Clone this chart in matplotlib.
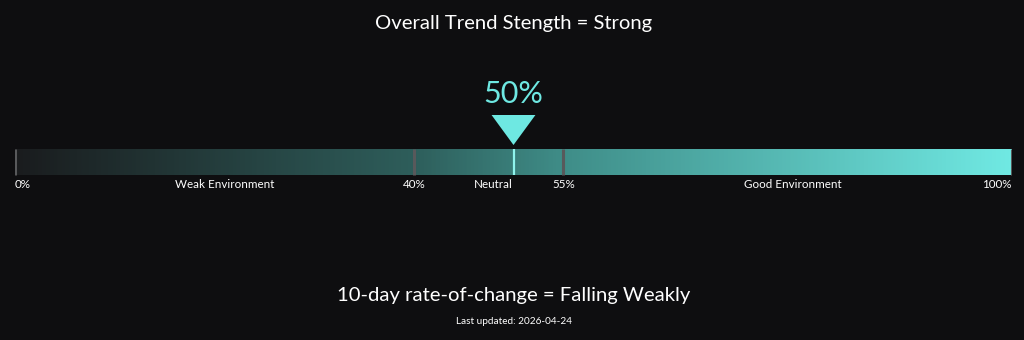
import numpy as np
import matplotlib
matplotlib.use("Agg")
import matplotlib.pyplot as plt
from matplotlib.colors import LinearSegmentedColormap

# 数据
title = "Overall Trend Stength = Strong"
subtitle = "10-day rate-of-change = Falling Weakly"
updated = "Last updated: 2026-04-24"
current_value = 50
dividers = [0, 40, 55, 100]
tick_labels = ["0%", "40%", "55%", "100%"]
zone_names = ["Weak Environment", "Neutral", "Good Environment"]
zone_label_pos = [21, 48, 78]

BG = "#0e0e10"
CYAN = "#6ee8e2"

plt.rcParams['font.family'] = ['Lato', 'DejaVu Sans']

fig = plt.figure(figsize=(10.24, 3.4), dpi=100, facecolor=BG)

# 坐标轴: x 为百分比, y 为像素(向下)
left, right = 15 / 1024, 1012 / 1024
y_top, y_bot = 60, 200
ax = fig.add_axes([left, (340 - y_bot) / 340, right - left, (y_bot - y_top) / 340])
ax.set_facecolor(BG)
ax.set_xlim(0, 100)
ax.set_ylim(y_bot, y_top)
ax.axis('off')

# 渐变条
cmap = LinearSegmentedColormap.from_list(
    "trend", [(0, "#1a1c1e"), (0.4, "#2e5e5b"), (0.55, "#3f8d88"), (1, "#70e9e3")])
grad = np.linspace(0, 1, 512).reshape(1, -1)
ax.imshow(grad, cmap=cmap, aspect='auto', extent=(0, 100, 175, 149), zorder=1)

# 分隔线
for d in dividers:
    ax.plot([d, d], [149, 175], color="#58595b", lw=2.2, zorder=2, solid_capstyle='butt')

# 当前值标记
ax.plot([current_value, current_value], [149, 175], color="#8ff3ec", lw=1.6, zorder=3,
        solid_capstyle='butt')
ax.fill([current_value - 2.2, current_value + 2.2, current_value],
        [115, 115, 145], color=CYAN, lw=0, zorder=3)
ax.text(current_value, 94, f"{current_value}%", color=CYAN, fontsize=22,
        ha='center', va='center')

# 刻度标签
for d, lab in zip(dividers, tick_labels):
    ha = 'left' if d == 0 else ('right' if d == 100 else 'center')
    ax.text(d, 184, lab, color="white", fontsize=8.4, ha=ha, va='center')
for p, name in zip(zone_label_pos, zone_names):
    ax.text(p, 184, name, color="white", fontsize=8.4, ha='center', va='center')

# 标题文字
fig.text(514 / 1024, 1 - 23 / 340, title, color="white", fontsize=14.6,
         ha='center', va='center')
fig.text(514 / 1024, 1 - 295 / 340, subtitle, color="white", fontsize=14.6,
         ha='center', va='center')
fig.text(514 / 1024, 1 - 322 / 340, updated, color="white", fontsize=7.2,
         ha='center', va='center')

fig.savefig("out.png", dpi=100, facecolor=BG)
